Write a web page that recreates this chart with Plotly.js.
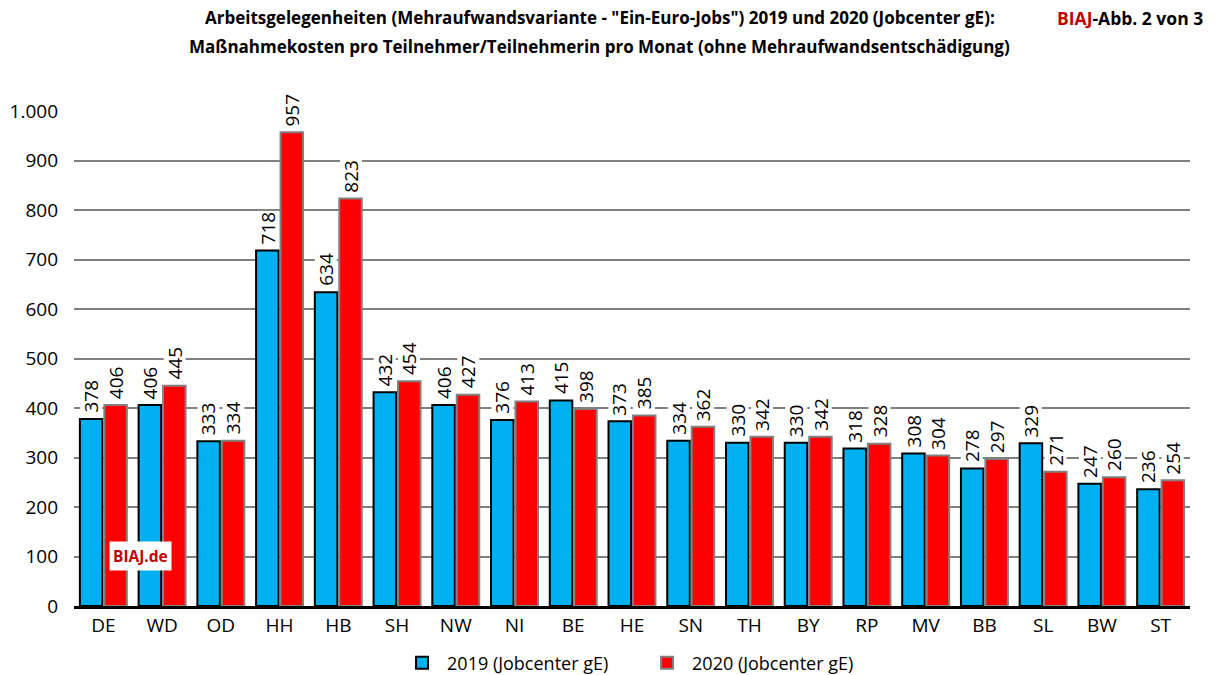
<!DOCTYPE html>
<html>
<head>
<meta charset="utf-8">
<script src="https://cdn.plot.ly/plotly-3.0.1.min.js"></script>
<style>html,body{margin:0;padding:0;background:#fff;}#chart{width:1218px;height:675px;}</style>
</head>
<body>
<div id="chart"></div>
<script>
const categories = ["DE","WD","OD","HH","HB","SH","NW","NI","BE","HE","SN","TH","BY","RP","MV","BB","SL","BW","ST"];
const values2019 = [378,406,333,718,634,432,406,376,415,373,334,330,330,318,308,278,329,247,236];
const values2020 = [406,445,334,957,823,454,427,413,398,385,362,342,342,328,304,297,271,260,254];
const seriesNames = ["2019 (Jobcenter gE)","2020 (Jobcenter gE)"];
const yTickVals = [0,100,200,300,400,500,600,700,800,900,1000];
const yTickText = ["0","100","200","300","400","500","600","700","800","900","1.000"];

const W = 1218, H = 675;
const margin = {l:74, r:28, t:111, b:69, autoexpand:false};
const bargap = 0.167;
const plotW = W - margin.l - margin.r;
const catW = plotW / categories.length;
const barOffset = catW * (1 - bargap) / 4;

const FONT = "Open Sans, sans-serif";
const labelFont = {family: FONT, size: 19, color: "#000"};

const traces = [
  {type:"bar", name: seriesNames[0], x: categories, y: values2019,
   marker:{color:"#00b0f0", line:{color:"#000000", width:2}}},
  {type:"bar", name: seriesNames[1], x: categories, y: values2020,
   marker:{color:"#ff0000", line:{color:"#808080", width:2}}}
];

const valueLabels = [];
[values2019, values2020].forEach((vals, si) => {
  vals.forEach((v, i) => {
    valueLabels.push({
      xref:"x", yref:"y", x: categories[i], y: v, xshift: (si === 0 ? -1 : 1) * barOffset,
      yshift: 5, xanchor:"center", yanchor:"bottom", showarrow:false, textangle:-90,
      text: String(v), font: labelFont, bgcolor:"#ffffff", borderpad:0, height:21
    });
  });
});

const layout = {
  width:W, height:H, margin: margin,
  paper_bgcolor:"#fff", plot_bgcolor:"#fff",
  barmode:"group", bargap:bargap, bargroupgap:0.08,
  font:{family:FONT, size:18, color:"#000"},
  xaxis:{type:"category", showline:true, linecolor:"#000", linewidth:3, ticks:"", showgrid:false,
         tickfont:{family:FONT, size:19, color:"#000"}},
  yaxis:{range:[0,1000], tickvals:yTickVals, ticktext:yTickText, showgrid:true, gridcolor:"#808080", gridwidth:2,
         ticks:"", showline:false, zeroline:false, ticklabelstandoff:15,
         tickfont:{family:FONT, size:19, color:"#000"}},
  showlegend:true,
  legend:{orientation:"h", x:0.509, xanchor:"center", y:-0.115, yanchor:"middle",
          font:{family:FONT, size:18, color:"#000"}, traceorder:"normal",
          entrywidth:190, entrywidthmode:"pixels", itemwidth:40},
  annotations: valueLabels.concat([
    {xref:"paper", yref:"paper", x:0.471, y:1.188, xanchor:"center", yanchor:"middle", showarrow:false,
     text:"<b>Arbeitsgelegenheiten (Mehraufwandsvariante - \"Ein-Euro-Jobs\") 2019 und 2020 (Jobcenter gE):</b>",
     font:{family:FONT, size:17, color:"#000"}},
    {xref:"paper", yref:"paper", x:0.471, y:1.131, xanchor:"center", yanchor:"middle", showarrow:false,
     text:"<b>Maßnahmekosten pro Teilnehmer/Teilnehmerin pro Monat (ohne Mehraufwandsentschädigung)</b>",
     font:{family:FONT, size:17, color:"#000"}},
    {xref:"paper", yref:"paper", x:1.0134, y:1.188, xanchor:"right", yanchor:"middle", showarrow:false,
     text:"<b><span style='color:#c00000'>BIAJ</span>-Abb. 2 von 3</b>",
     font:{family:FONT, size:17.5, color:"#000"}},
    {xref:"paper", yref:"paper", x:0.031, y:0.101, xanchor:"left", yanchor:"middle", showarrow:false,
     text:"<b>BIAJ.de</b>", bgcolor:"#ffffff", borderpad:3,
     font:{family:FONT, size:15.5, color:"#c00000"}}
  ])
};
Plotly.newPlot("chart", traces, layout, {displayModeBar:false});
</script>
</body>
</html>
